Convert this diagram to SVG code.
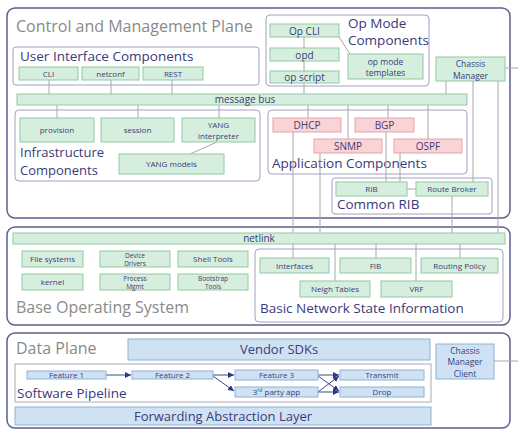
<svg xmlns="http://www.w3.org/2000/svg" width="518" height="429" viewBox="0 0 518 429">
<defs>
<style>
text{font-family:"Open Sans","Noto Sans","DejaVu Sans",sans-serif}
.outer{fill:#fff;stroke:#5e5e8e;stroke-width:1.5}
.inner{fill:#fff;stroke:#a0a0c0;stroke-width:1}
.g{fill:#d6eedd;stroke:#94c8a4;stroke-width:1}
.p{fill:#f9d3d6;stroke:#e2a3aa;stroke-width:1}
.b{fill:#cfe2f3;stroke:#8fb2d2;stroke-width:1}
.t{fill:#3c3c78;font-size:8px;text-anchor:middle}
.t2{fill:#3c3c78;font-size:6.5px;text-anchor:middle}
.tb{fill:#3c3c78;font-size:10px;text-anchor:middle}
.tm{fill:#3c3c78;font-size:8.5px;text-anchor:middle}
.big{fill:#8a8a8a;font-size:16px}
.h{fill:#3a3a7a;font-size:13.5px}
.ln{stroke:#a8a8a8;stroke-width:1;fill:none}
.ar{stroke:#3a4a8a;stroke-width:1;fill:none;marker-end:url(#ah)}
</style>
<marker id="ah" viewBox="0 0 10 10" refX="10" refY="5" markerWidth="6" markerHeight="6" orient="auto" markerUnits="userSpaceOnUse">
<path d="M0,0 L10,5 L0,10 z" fill="#2a3a8a"/>
</marker>
</defs>
<rect width="518" height="429" fill="#fff"/>

<!-- Outer containers -->
<g id="control-plane">
<rect class="outer" x="7" y="8" width="503" height="210" rx="8"/>
<text class="big" x="16" y="32">Control and Management Plane</text>
</g>
<g id="base-os">
<rect class="outer" x="7" y="227" width="503" height="98" rx="8"/>
<text class="big" x="16" y="313">Base Operating System</text>
</g>
<g id="data-plane">
<rect class="outer" x="7" y="333" width="503" height="95" rx="8"/>
<text class="big" x="16" y="354">Data Plane</text>
</g>

<!-- Sub containers -->
<g id="ui-components">
<rect class="inner" x="13" y="47" width="246" height="38" rx="3"/>
<text class="h" x="20" y="61">User Interface Components</text>
</g>
<g id="opmode-components">
<rect class="inner" x="266" y="15" width="163" height="71" rx="4"/>
<text class="h" x="348" y="28">Op Mode</text>
<text class="h" x="348" y="45">Components</text>
</g>
<g id="infra-components">
<rect class="inner" x="15" y="110" width="245" height="71" rx="4"/>
<text class="h" style="font-size:13px" x="20" y="157">Infrastructure</text>
<text class="h" style="font-size:13px" x="20" y="175">Components</text>
</g>
<g id="app-components">
<rect class="inner" x="268" y="110" width="199" height="64" rx="4"/>
<text class="h" x="272" y="168">Application Components</text>
</g>
<g id="common-rib">
<rect class="inner" x="332" y="178" width="160" height="36" rx="3"/>
<text class="h" x="337" y="209">Common RIB</text>
</g>
<g id="basic-network-state">
<rect class="inner" x="255" y="249" width="248" height="73" rx="4"/>
<text class="h" x="260" y="313">Basic Network State Information</text>
</g>
<g id="software-pipeline">
<rect x="15" y="364" width="416" height="38" fill="#fff" stroke="#a8a8b8" stroke-width="1"/>
<text class="h" x="17" y="398">Software Pipeline</text>
</g>

<!-- Connectors -->
<g id="connectors">
<path class="ln" d="M49,80V94 M111,80V94 M172,80V94"/>
<path class="ln" d="M304,37V94 M339,37L350,54"/>
<path class="ln" d="M446,81V94 M473,81V182 M498,81V233 M505,68H518"/>
<path class="ln" d="M57,105V118 M138,105V118 M219,105V118 M217,142L190,154"/>
<path class="ln" d="M308,105V118 M348,105V139 M388,105V118 M428,105V139"/>
<path class="ln" d="M293,132V233 M320,153V233 M386,132V182 M400,153V182 M452,196V233 M407,189H416"/>
<path class="ln" d="M293,244V258 M335,244V281 M376,244V258 M416,244V281 M460,244V258"/>
<path class="ln" d="M494,361H518"/>
<path class="ar" d="M106,375H131"/>
<path class="ar" d="M213,375H234"/>
<path class="ar" d="M213,376L234,391"/>
<path class="ar" d="M318,375L339,375"/>
<path class="ar" d="M318,376L339,391"/>
<path class="ar" d="M318,392L339,376"/>
<path class="ar" d="M318,392L339,392"/>
</g>

<!-- UI nodes -->
<g id="cli"><rect class="g" x="19" y="67" width="59" height="13"/><text class="t" x="48.5" y="76.5">CLI</text></g>
<g id="netconf"><rect class="g" x="82" y="67" width="57" height="13"/><text class="t" x="110.5" y="76.5">netconf</text></g>
<g id="rest"><rect class="g" x="143" y="67" width="60" height="13"/><text class="t" x="173" y="76.5">REST</text></g>

<!-- Op mode nodes -->
<g id="op-cli"><rect class="g" x="270" y="24" width="69" height="13"/><text class="tb" x="304.5" y="34.5">Op CLI</text></g>
<g id="opd"><rect class="g" x="270" y="48" width="69" height="13"/><text class="tb" x="304.5" y="58.5">opd</text></g>
<g id="op-script"><rect class="g" x="270" y="71" width="69" height="12"/><text class="tb" x="304.5" y="81">op script</text></g>
<g id="op-mode-templates"><rect class="g" x="348" y="54" width="75" height="25"/><text class="tm" x="385.5" y="64.5">op mode</text><text class="tm" x="385.5" y="76">templates</text></g>
<g id="chassis-manager"><rect class="g" x="436" y="57" width="69" height="24"/><text class="tm" x="470.5" y="67">Chassis</text><text class="tm" x="470.5" y="78.5">Manager</text></g>

<!-- Message bus -->
<g id="message-bus"><rect class="g" x="17" y="94" width="450" height="11"/><text class="tb" x="245" y="103">message bus</text></g>

<!-- Infra nodes -->
<g id="provision"><rect class="g" x="20" y="118" width="74" height="24"/><text class="t" x="57" y="133">provision</text></g>
<g id="session"><rect class="g" x="101" y="118" width="73" height="24"/><text class="t" x="137.5" y="133">session</text></g>
<g id="yang-interpreter"><rect class="g" x="182" y="118" width="73" height="24"/><text class="t" x="218.5" y="128">YANG</text><text class="t" x="218.5" y="139">interpreter</text></g>
<g id="yang-models"><rect class="g" x="119" y="154" width="105" height="20"/><text class="t" x="171.5" y="167">YANG models</text></g>

<!-- App nodes -->
<g id="dhcp"><rect class="p" x="273" y="118" width="68" height="14"/><text class="tb" x="307" y="128.5">DHCP</text></g>
<g id="bgp"><rect class="p" x="355" y="118" width="59" height="14"/><text class="tb" x="384.5" y="128.5">BGP</text></g>
<g id="snmp"><rect class="p" x="314" y="139" width="68" height="14"/><text class="tb" x="348" y="149.5">SNMP</text></g>
<g id="ospf"><rect class="p" x="394" y="139" width="68" height="14"/><text class="tb" x="428" y="149.5">OSPF</text></g>

<!-- Common RIB nodes -->
<g id="rib"><rect class="g" x="336" y="182" width="71" height="14"/><text class="t" x="371.5" y="192">RIB</text></g>
<g id="route-broker"><rect class="g" x="416" y="182" width="72" height="14"/><text class="t" x="452" y="192">Route Broker</text></g>

<!-- netlink -->
<g id="netlink"><rect class="g" x="13" y="233" width="492" height="11"/><text class="tb" x="259" y="242">netlink</text></g>

<!-- Base OS nodes -->
<g id="file-systems"><rect class="g" x="22" y="251" width="61" height="16"/><text class="t" x="52.5" y="262">File systems</text></g>
<g id="device-drivers"><rect class="g" x="100" y="251" width="70" height="16"/><text class="t2" x="135" y="257.5">Device</text><text class="t2" x="135" y="266">Drivers</text></g>
<g id="shell-tools"><rect class="g" x="178" y="251" width="70" height="16"/><text class="t" x="213" y="262">Shell Tools</text></g>
<g id="kernel"><rect class="g" x="22" y="274" width="61" height="16"/><text class="t" x="52.5" y="285">kernel</text></g>
<g id="process-mgmt"><rect class="g" x="100" y="274" width="70" height="16"/><text class="t2" x="135" y="280.5">Process</text><text class="t2" x="135" y="289">Mgmt</text></g>
<g id="bootstrap-tools"><rect class="g" x="178" y="274" width="70" height="16"/><text class="t2" x="213" y="280.5">Bootstrap</text><text class="t2" x="213" y="289">Tools</text></g>

<!-- Network state nodes -->
<g id="interfaces"><rect class="g" x="260" y="258" width="69" height="15"/><text class="t" x="294.5" y="268.5">Interfaces</text></g>
<g id="fib"><rect class="g" x="340" y="258" width="71" height="15"/><text class="t" x="375.5" y="268.5">FIB</text></g>
<g id="routing-policy"><rect class="g" x="421" y="258" width="77" height="15"/><text class="t" x="459.5" y="268.5">Routing Policy</text></g>
<g id="neigh-tables"><rect class="g" x="300" y="281" width="70" height="16"/><text class="t" x="335" y="292">Neigh Tables</text></g>
<g id="vrf"><rect class="g" x="381" y="281" width="71" height="16"/><text class="t" x="416.5" y="292">VRF</text></g>

<!-- Data plane nodes -->
<g id="vendor-sdks"><rect class="b" x="128" y="339" width="302" height="21"/><text fill="#3c3c78" font-size="13" text-anchor="middle" x="279" y="354">Vendor SDKs</text></g>
<g id="feature-1"><rect class="b" x="27" y="371" width="79" height="8"/><text class="t" x="66.5" y="378">Feature 1</text></g>
<g id="feature-2"><rect class="b" x="132" y="371" width="81" height="8"/><text class="t" x="172.5" y="378">Feature 2</text></g>
<g id="feature-3"><rect class="b" x="235" y="370" width="83" height="10"/><text class="t" x="276.5" y="378">Feature 3</text></g>
<g id="third-party-app"><rect class="b" x="235" y="387" width="83" height="10"/><text class="t" x="276.5" y="395">3<tspan font-size="5" dy="-3">rd</tspan><tspan dy="3"> party app</tspan></text></g>
<g id="transmit"><rect class="b" x="340" y="370" width="84" height="10"/><text class="t" x="382" y="378">Transmit</text></g>
<g id="drop"><rect class="b" x="340" y="387" width="84" height="10"/><text class="t" x="382" y="395">Drop</text></g>
<g id="forwarding-abstraction-layer"><rect class="b" x="15" y="407" width="416" height="18"/><text fill="#3c3c78" font-size="13" text-anchor="middle" x="223" y="421">Forwarding Abstraction Layer</text></g>
<g id="chassis-manager-client"><rect class="b" x="436" y="344" width="58" height="35"/><text class="tm" x="465" y="353.5">Chassis</text><text class="tm" x="465" y="365">Manager</text><text class="tm" x="465" y="376.5">Client</text></g>
</svg>
